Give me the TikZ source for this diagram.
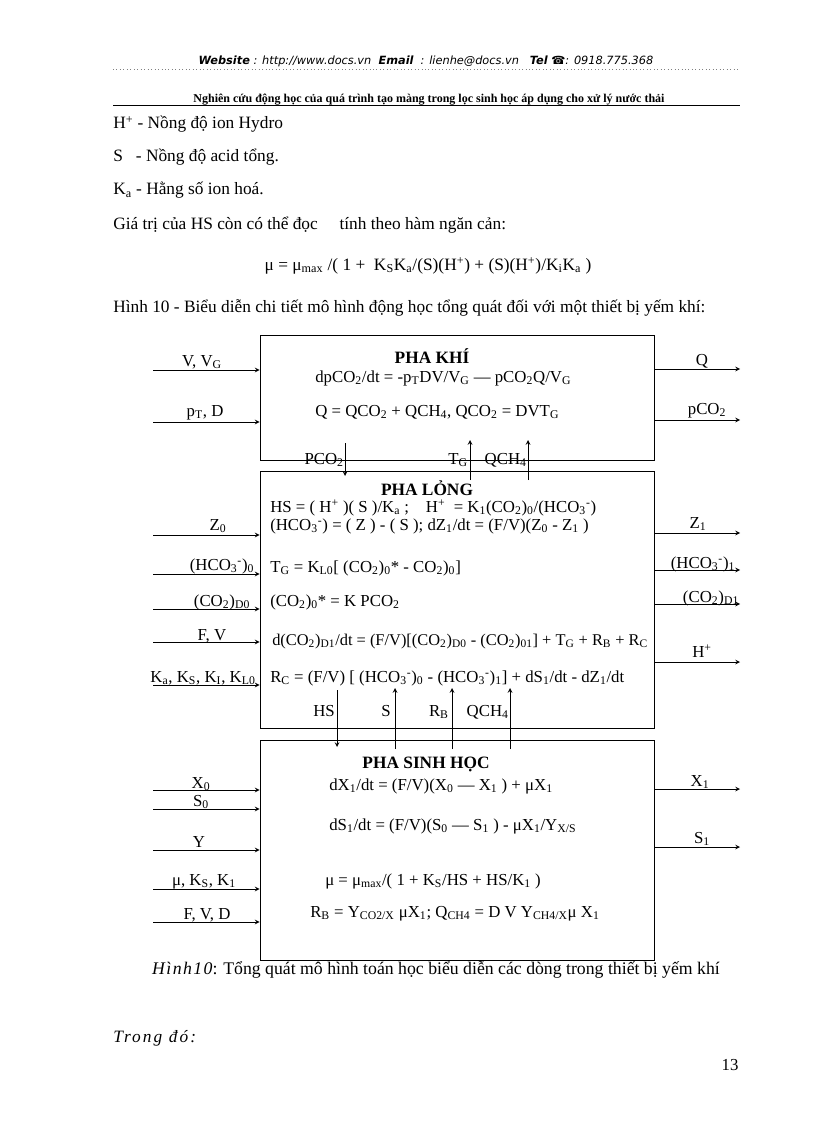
\documentclass[tikz,border=0pt]{standalone}
\usepackage{fontspec}
\setmainfont{Liberation Serif}
\newfontfamily\hdrfont{DejaVu Sans}
\newcommand{\dn}[1]{\textsubscript{#1}}
\newcommand{\hi}[1]{\textsuperscript{#1}}
\tikzset{
  phase/.style={draw,line width=0.6pt,inner sep=0pt},
  flow/.style={->,line width=0.6pt},
  body/.style={anchor=base west,inner sep=0pt,font=\fontsize{13}{15}\selectfont},
  txt/.style={anchor=base west,inner sep=0pt,font=\fontsize{12.6}{14}\selectfont},
  lbl/.style={anchor=base,inner sep=0pt,font=\fontsize{12.6}{14}\selectfont},
  vlbl/.style={anchor=base east,inner sep=0pt,font=\fontsize{12.6}{14}\selectfont},
  ttl/.style={anchor=base,inner sep=0pt,font=\fontsize{13}{15}\selectfont\bfseries}
}
\begin{document}
\begin{tikzpicture}[x=0.75pt,y=-0.75pt,>=stealth]
  \useasboundingbox (0,0) rectangle (816,1123);
  % header
  \node[anchor=base,inner sep=0pt,font=\hdrfont\fontsize{8.5}{10}\selectfont\itshape] (web) at (426,65)
    {\textbf{Website} : http://www.docs.vn \ \textbf{Email} \ : lienhe@docs.vn \ \ \textbf{Tel} ☎: 0918.775.368};
  \draw[gray,dotted,line width=0.6pt] (113,69) -- (740,69);
  \node[anchor=base,inner sep=0pt,font=\fontsize{9}{10}\selectfont\bfseries] (topic) at (429,103)
    {Nghiên cứu động học của quá trình tạo màng trong lọc sinh học áp dụng cho xử lý nước thải};
  \draw[line width=0.6pt] (113,105.5) -- (740,105.5);
  % body text
  \node[body] (t1) at (113,129) {H\hi{+} - Nồng độ ion Hydro};
  \node[body] (t2) at (113,162) {S \ \ - Nồng độ acid tổng.};
  \node[body] (t3) at (113,195) {K\dn{a} - Hằng số ion hoá.};
  \node[body] (t4) at (113,229) {Giá trị của HS còn có thể đọc \ \ \ \ tính theo hàm ngăn cản:};
  \node[body,anchor=base] (mu) at (428,270) {μ = μ\dn{max} /( 1 + \ K\dn{S}K\dn{a}/(S)(H\hi{+}) + (S)(H\hi{+})/K\dn{i}K\dn{a} )};
  \node[body] (t5) at (113,312) {Hình 10 - Biểu diễn chi tiết mô hình động học tổng quát đối với một thiết bị yếm khí:};
  % boxes
  \node[phase,minimum width=295.5pt,minimum height=93.75pt] (khi) at (457,397.5) {};
  \node[phase,minimum width=295.5pt,minimum height=192.75pt] (long) at (457,599.5) {};
  \node[phase,minimum width=295.5pt,minimum height=165pt] (sinh) at (457,850) {};
  % pha khi
  \node[ttl] (khiT) at (432,363) {PHA KHÍ};
  \node[txt] (k1) at (315,382) {dpCO\dn{2}/dt = -p\dn{T}DV/V\dn{G} — pCO\dn{2}Q/V\dn{G}};
  \node[txt] (k2) at (315,416) {Q = QCO\dn{2} + QCH\dn{4}, QCO\dn{2} = DVT\dn{G}};
  \node[lbl] (vvgL) at (202,366) {V, V\dn{G}};
  \node[lbl] (ptdL) at (205,416) {p\dn{T}, D};
  \coordinate (vvg) at (153,370); \coordinate (ptd) at (153,422);
  \draw[flow] (vvg) -- (vvg -| khi.west); \draw[flow] (ptd) -- (ptd -| khi.west);
  \node[lbl] (qL) at (702,365) {Q};
  \node[lbl] (pco2L) at (707,414) {pCO\dn{2}};
  \coordinate (qOut) at (740,369); \coordinate (pco2Out) at (740,420);
  \draw[flow] (qOut -| khi.east) -- (qOut); \draw[flow] (pco2Out -| khi.east) -- (pco2Out);
  % khi <-> long
  \coordinate (pA) at (345,443); \coordinate (pB) at (345,476);
  \coordinate (tA) at (470,480); \coordinate (tB) at (470,440);
  \coordinate (cA) at (528,480); \coordinate (cB) at (528,440);
  \draw[flow] (pA) -- (pB); \draw[flow] (tA) -- (tB); \draw[flow] (cA) -- (cB);
  \node[vlbl] (pL) at (344,464) {PCO\dn{2}};
  \node[vlbl] (tL) at (468,464) {T\dn{G}};
  \node[vlbl] (cL) at (527,464) {QCH\dn{4}};
  % pha long
  \node[ttl] (longT) at (427,495) {PHA LỎNG};
  \node[txt] (l1) at (270,512) {HS = ( H\hi{+} )( S )/K\dn{a} ; \ \ \ H\hi{+} \ = K\dn{1}(CO\dn{2})\dn{0}/(HCO\dn{3}\hi{-})};
  \node[txt] (l2) at (270,530) {(HCO\dn{3}\hi{-}) = ( Z ) - ( S ); dZ\dn{1}/dt = (F/V)(Z\dn{0} - Z\dn{1} )};
  \node[txt] (l3) at (270,572) {T\dn{G} = K\dn{L0}[ (CO\dn{2})\dn{0}* - CO\dn{2})\dn{0}]};
  \node[txt] (l4) at (270,606) {(CO\dn{2})\dn{0}* = K PCO\dn{2}};
  \node[txt,font=\fontsize{12.3}{14}\selectfont] (l5) at (272,645) {d(CO\dn{2})\dn{D1}/dt = (F/V)[(CO\dn{2})\dn{D0} - (CO\dn{2})\dn{01}] + T\dn{G} + R\dn{B} + R\dn{C}};
  \node[txt] (l6) at (270,682) {R\dn{C} = (F/V) [ (HCO\dn{3}\hi{-})\dn{0} - (HCO\dn{3}\hi{-})\dn{1}] + dS\dn{1}/dt - dZ\dn{1}/dt};
  \node[lbl] (z0L) at (218,530) {Z\dn{0}};
  \node[lbl] (hco0L) at (222,570) {(HCO\dn{3}\hi{-})\dn{0}};
  \node[lbl] (co0L) at (222,606) {(CO\dn{2})\dn{D0}};
  \node[lbl] (fvL) at (212,640) {F, V};
  \node[lbl] (kaL) at (203,682) {K\dn{a}, K\dn{S}, K\dn{I}, K\dn{L0}};
  \coordinate (z0) at (153,535); \coordinate (hco0) at (153,574); \coordinate (co0) at (153,609);
  \coordinate (fv) at (153,642); \coordinate (ka) at (153,685);
  \draw[flow] (z0) -- (z0 -| long.west); \draw[flow] (hco0) -- (hco0 -| long.west);
  \draw[flow] (co0) -- (co0 -| long.west); \draw[flow] (fv) -- (fv -| long.west);
  \draw[flow] (ka) -- (ka -| long.west);
  \node[lbl] (z1L) at (698,528) {Z\dn{1}};
  \node[lbl] (hco1L) at (703,568) {(HCO\dn{3}\hi{-})\dn{1}};
  \node[lbl] (co1L) at (711,602) {(CO\dn{2})\dn{D1}};
  \node[lbl] (hL) at (702,657) {H\hi{+}};
  \coordinate (z1) at (740,533); \coordinate (hco1) at (740,570);
  \coordinate (co1) at (740,604); \coordinate (hOut) at (740,662);
  \draw[flow] (z1 -| long.east) -- (z1); \draw[flow] (hco1 -| long.east) -- (hco1);
  \draw[flow] (co1 -| long.east) -- (co1); \draw[flow] (hOut -| long.east) -- (hOut);
  % long <-> sinh
  \coordinate (hsA) at (337,690); \coordinate (hsB) at (337,747);
  \coordinate (sA) at (395,749); \coordinate (sB) at (395,688);
  \coordinate (rA) at (452,749); \coordinate (rB) at (452,688);
  \coordinate (mA) at (510,749); \coordinate (mB) at (510,688);
  \draw[flow] (hsA) -- (hsB); \draw[flow] (sA) -- (sB);
  \draw[flow] (rA) -- (rB); \draw[flow] (mA) -- (mB);
  \node[vlbl] (hsL) at (335,716) {HS};
  \node[vlbl] (sL) at (391,716) {S};
  \node[vlbl] (rL) at (449,716) {R\dn{B}};
  \node[vlbl] (mL) at (509,716) {QCH\dn{4}};
  % pha sinh hoc
  \node[ttl] (sinhT) at (426,768) {PHA SINH HỌC};
  \node[txt] (s1) at (329,790) {dX\dn{1}/dt = (F/V)(X\dn{0} — X\dn{1} ) + μX\dn{1}};
  \node[txt] (s2) at (329,830) {dS\dn{1}/dt = (F/V)(S\dn{0} — S\dn{1} ) - μX\dn{1}/Y\dn{X/S}};
  \node[txt] (s3) at (325,885) {μ = μ\dn{max}/( 1 + K\dn{S}/HS + HS/K\dn{1} )};
  \node[txt] (s4) at (310,917) {R\dn{B} = Y\dn{CO2/X} μX\dn{1}; Q\dn{CH4} = D V Y\dn{CH4/X}μ X\dn{1}};
  \node[lbl] (x0L) at (201,788) {X\dn{0}};
  \node[lbl] (s0L) at (201,806) {S\dn{0}};
  \node[lbl] (yL) at (199,847) {Y};
  \node[lbl] (muL) at (204,885) {μ, K\dn{S}, K\dn{1}};
  \node[lbl] (fvdL) at (207,919) {F, V, D};
  \coordinate (x0) at (153,790); \coordinate (s0) at (153,809); \coordinate (y) at (153,850);
  \coordinate (muIn) at (153,889); \coordinate (fvd) at (153,922);
  \draw[flow] (x0) -- (x0 -| sinh.west); \draw[flow] (s0) -- (s0 -| sinh.west);
  \draw[flow] (y) -- (y -| sinh.west); \draw[flow] (muIn) -- (muIn -| sinh.west);
  \draw[flow] (fvd) -- (fvd -| sinh.west);
  \node[lbl] (x1L) at (700,786) {X\dn{1}};
  \node[lbl] (s1L) at (702,843) {S\dn{1}};
  \coordinate (x1) at (740,789); \coordinate (s1) at (740,847);
  \draw[flow] (x1 -| sinh.east) -- (x1); \draw[flow] (s1 -| sinh.east) -- (s1);
  % caption and page
  \node[anchor=base,inner sep=0pt,font=\fontsize{13.3}{15}\selectfont] (cap) at (436,974)
    {{\itshape\addfontfeatures{LetterSpace=8}Hình10}: Tổng quát mô hình toán học biểu diễn các dòng trong thiết bị yếm khí};
  \node[body] (trong) at (113,1042) {\itshape\addfontfeatures{LetterSpace=12}Trong đó:};
  \node[lbl] (page) at (730,1070) {13};
\end{tikzpicture}
\end{document}
